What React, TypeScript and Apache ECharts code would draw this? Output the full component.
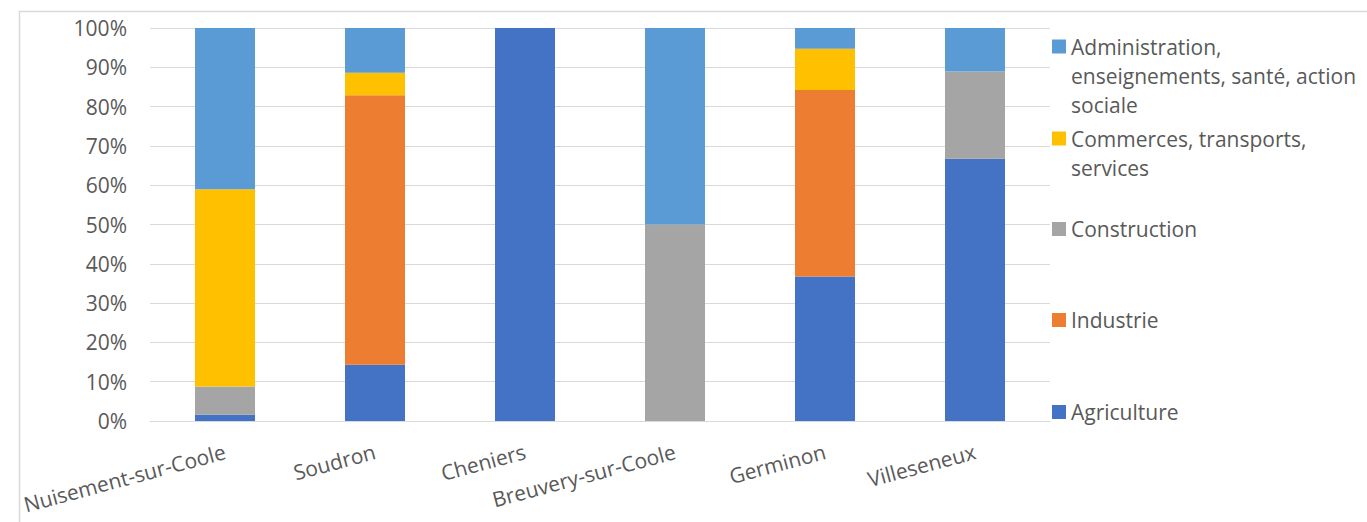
import React, { useEffect, useRef } from "react";
import * as echarts from "echarts";

const communes = ["Nuisement-sur-Coole", "Soudron", "Cheniers", "Breuvery-sur-Coole", "Germinon", "Villeseneux"];
const agriculture = [1.6, 14.3, 100, 0, 36.8, 66.7];
const industrie = [0, 68.6, 0, 0, 47.4, 0];
const construction = [7.2, 0, 0, 50, 0, 22.2];
const commerces = [50.2, 5.7, 0, 0, 10.5, 0];
const administration = [41.0, 11.4, 0, 50, 5.3, 11.1];

const seriesNames = [
  "Agriculture",
  "Industrie",
  "Construction",
  "Commerces, transports, services",
  "Administration, enseignements, santé, action sociale",
];
const legendLines = [
  ["Agriculture"],
  ["Industrie"],
  ["Construction"],
  ["Commerces, transports,", "services"],
  ["Administration,", "enseignements, santé, action", "sociale"],
];
const colors = ["#4472C4", "#ED7D31", "#A5A5A5", "#FFC000", "#5B9BD5"];
const seriesData = [agriculture, industrie, construction, commerces, administration];
const legendCenters = [412, 320, 229, 138.5, 46.5];

const FONT = "'Open Sans', 'Noto Sans', sans-serif";
const TEXT = "#595959";
const LH = 29;
const FS = 21;

export default function App() {
  const ref = useRef<HTMLDivElement>(null);
  useEffect(() => {
    document.body.style.margin = "0";
    const chart = echarts.init(ref.current!, null, { renderer: "svg" });
    const legends = seriesNames.map((name, i) => {
      const lines = legendLines[i];
      const n = lines.length;
      const label = " \n".repeat(n - 1) + lines.join("\n");
      return {
        show: true,
        data: [name],
        orient: "vertical",
        left: 1052,
        top: legendCenters[i] - ((2 * n - 1) * LH) / 2,
        padding: 0,
        itemWidth: 14,
        itemHeight: 14,
        icon: "rect",
        selectedMode: false,
        formatter: () => label,
        textStyle: {
          fontFamily: FONT,
          fontSize: FS,
          color: TEXT,
          lineHeight: LH,
        },
      };
    });
    chart.setOption({
      animation: false,
      backgroundColor: "#ffffff",
      color: colors,
      textStyle: { fontFamily: FONT },
      graphic: [
        {
          type: "rect",
          shape: { x: 19.5, y: 11.5, width: 1400, height: 600 },
          style: { fill: "none", stroke: "#d9d9d9", lineWidth: 1.5 },
          z: -10,
        },
      ],
      legend: legends,
      grid: { left: 150, right: 317, top: 28, bottom: 101, containLabel: false },
      xAxis: {
        type: "category",
        data: communes,
        axisLine: { show: true, lineStyle: { color: "#d9d9d9", width: 1 } },
        axisTick: { show: false },
        axisLabel: {
          interval: 0,
          rotate: 15,
          margin: 30,
          fontSize: FS,
          color: TEXT,
          fontFamily: FONT,
        },
      },
      yAxis: {
        type: "value",
        min: 0,
        max: 100,
        interval: 10,
        axisLine: { show: false },
        axisTick: { show: false },
        splitLine: { lineStyle: { color: "#d9d9d9", width: 1 } },
        axisLabel: {
          formatter: "{value}%",
          fontSize: FS,
          color: TEXT,
          fontFamily: FONT,
          margin: 23,
        },
      },
      series: seriesNames.map((name, i) => ({
        name,
        type: "bar",
        stack: "total",
        data: seriesData[i],
        barCategoryGap: "60%",
        itemStyle: { color: colors[i] },
      })),
    });
    return () => chart.dispose();
  }, []);
  return <div ref={ref} style={{ width: 1367, height: 522 }} />;
}
